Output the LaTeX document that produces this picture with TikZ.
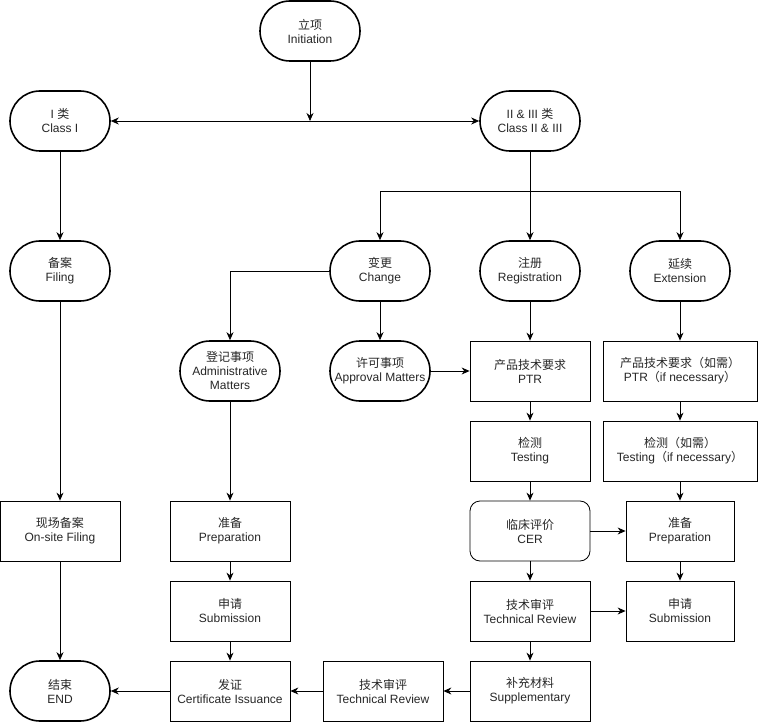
\documentclass[tikz,border=0pt]{standalone}
\usepackage{fontspec}
\setmainfont{Liberation Sans}
\newfontfamily\cjk{Noto Sans CJK SC}
\newcommand{\zh}[1]{{\cjk #1}}
\usepackage{tikz}
\usetikzlibrary{arrows.meta}

\begin{document}
\begin{tikzpicture}[x=1pt,y=-1pt,font=\fontsize{12}{14}\selectfont,text=black!85]
            \useasboundingbox (0,0) rectangle (758,722);
            \begin{scope}[every node/.style={draw,line width=1.6pt,rounded corners=30pt,minimum width=100pt,minimum height=60pt,inner sep=0pt,align=center}]
                \node (init) at (310,31) {\zh{立项}\\Initiation};
                \node (c1) at (60,121) {I \zh{类}\\Class I};
                \node (c23) at (530,121) {II \& III \zh{类}\\Class II \& III};
                \node (filing) at (60,271) {\zh{备案}\\Filing};
                \node (change) at (380,271) {\zh{变更}\\Change};
                \node (reg) at (530,271) {\zh{注册}\\Registration};
                \node (ext) at (680,271) {\zh{延续}\\Extension};
                \node (admin) at (230,371) {\zh{登记事项}\\Administrative\\Matters};
                \node (appr) at (380,371) {\zh{许可事项}\\Approval Matters};
                \node (fin) at (60,691) {\zh{结束}\\END};
                
            \end{scope}
            
            \begin{scope}[every node/.style={draw,line width=0.8pt,minimum width=120pt,minimum height=60pt,inner sep=0pt,align=center}]
                \node (onsite) at (60,531) {\zh{现场备案}\\On-site Filing};
                \node (prepA) at (230,531) {\zh{准备}\\Preparation};
                \node (subA) at (230,611) {\zh{申请}\\Submission};
                \node (cert) at (230,691) {\zh{发证}\\Certificate Issuance};
                \node (trA) at (383,691) {\zh{技术审评}\\Technical Review};
                \node (ptr) at (530,371) {\zh{产品技术要求}\\PTR};
                \node (test) at (530,451) {\zh{检测}\\Testing};
                \node (cer) [rounded corners=10pt] at (530,531) {\zh{临床评价}\\CER};
                \node (trB) at (530,611) {\zh{技术审评}\\Technical Review};
                \node (supp) at (530,691) {\zh{补充材料}\\Supplementary};
                \node (ptrN) [minimum width=154pt] at (680,371) {\zh{产品技术要求（如需）}\\PTR\zh{（}if necessary\zh{）}};
                \node (testN) [minimum width=154pt] at (680,451) {\zh{检测（如需）}\\Testing\zh{（}if necessary\zh{）}};
                \node (prepB) [minimum width=108pt] at (680,531) {\zh{准备}\\Preparation};
                \node (subB) [minimum width=108pt] at (680,611) {\zh{申请}\\Submission};
                
            \end{scope}
            
            \coordinate (split) at (310,121);
            \coordinate (fork) at (530,191);
            
            \begin{scope}[>={Stealth[black,length=8pt,width=7pt]},
                          every edge/.style={draw=black,line width=0.8pt}]
                \path [-] (init) edge [->] (split);
                \path [->] (split) edge (c1);
                \path [->] (split) edge (c23);
                \path [->] (c1) edge (filing);
                \path [->] (c23) edge (reg);
                \draw [->,line width=0.8pt] (fork) -| (change);
                \draw [->,line width=0.8pt] (fork) -| (ext);
                \draw [->,line width=0.8pt] (change) -| (admin);
                \path [->] (change) edge (appr);
                \path [->] (appr) edge (ptr);
                \path [->] (reg) edge (ptr);
                \path [->] (ext) edge (ptrN);
                \path [->] (ptr) edge (test);
                \path [->] (test) edge (cer);
                \path [->] (cer) edge (trB);
                \path [->] (trB) edge (supp);
                \path [->] (ptrN) edge (testN);
                \path [->] (testN) edge (prepB);
                \path [->] (prepB) edge (subB);
                \path [->] (cer) edge (prepB);
                \path [->] (trB) edge (subB);
                \path [->] (supp) edge (trA);
                \path [->] (trA) edge (cert);
                \path [->] (cert) edge (fin);
                \path [->] (admin) edge (prepA);
                \path [->] (prepA) edge (subA);
                \path [->] (subA) edge (cert);
                \path [->] (filing) edge (onsite);
                \path [->] (onsite) edge (fin);
            
            \end{scope}
        \end{tikzpicture}
\end{document}
